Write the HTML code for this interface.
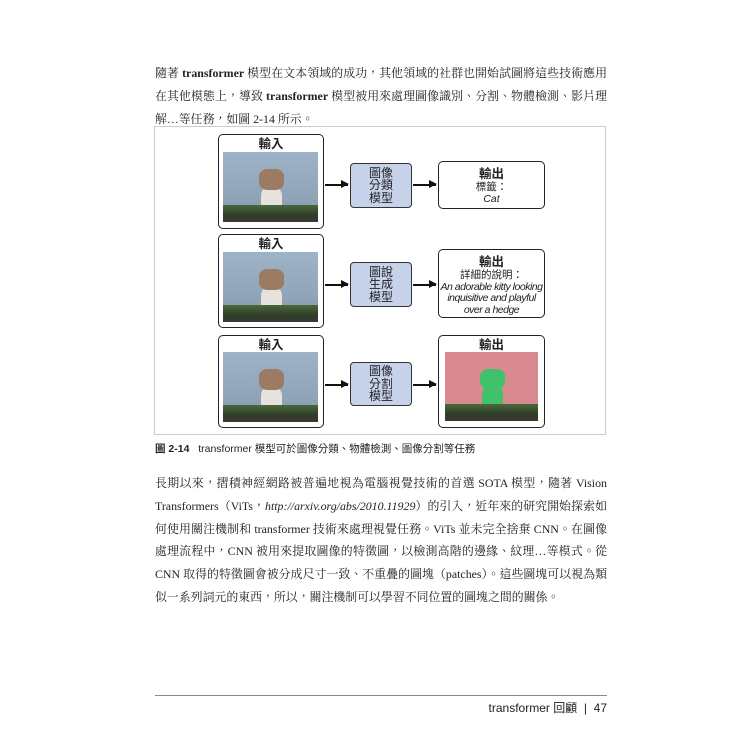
<!DOCTYPE html>
<html><head><meta charset="utf-8"><style>
body{margin:0;width:750px;height:750px;background:#fff;position:relative;overflow:hidden;font-family:"Liberation Serif","Noto Serif CJK TC","Noto Serif CJK SC",serif;color:#222}
.p{position:absolute;left:155px;width:452px;font-size:11.9px;line-height:22.8px}
.p div{text-align:justify;text-align-last:justify;white-space:nowrap;height:22.8px}
.p div.last{text-align-last:left}
.frame{position:absolute;left:154px;top:126px;width:452px;height:309px;border:1px solid #ccc;box-sizing:border-box}
.box{position:absolute;border:1.6px solid #222;border-radius:5px;background:#fff;box-sizing:border-box;font-family:"Liberation Sans","Noto Sans CJK TC",sans-serif;text-align:center}
.t{font-weight:bold;font-size:12.5px;line-height:16px}
.model{position:absolute;background:#c6d2ea;border:1.6px solid #333;border-radius:4px;box-sizing:border-box;font-family:"Liberation Sans","Noto Sans CJK TC",sans-serif;font-size:12px;line-height:12.5px;text-align:center;display:flex;align-items:center;justify-content:center}
.img{position:absolute;overflow:hidden;background:linear-gradient(#9fb3c8,#8ea3b6 70%,#7f93a0)}
.img .hedge{position:absolute;left:0;right:0;bottom:0;height:24%;background:linear-gradient(#4a6a3a,#2f3d2a 60%,#3a3a30)}
.img .body{position:absolute;left:40%;width:22%;top:48%;height:36%;background:#e6e2de;border-radius:40% 40% 10% 10%}
.img .head{position:absolute;left:38%;width:26%;top:24%;height:30%;background:#9b7b62;border-radius:35%}
.img.seg{background:#d98a90}
.img.seg .body,.img.seg .head{background:#3fc26a}
.arr{position:absolute;height:1.6px;background:#111}
.arr:after{content:"";position:absolute;right:-1px;top:-4px;border-left:8px solid #111;border-top:4.8px solid transparent;border-bottom:4.8px solid transparent}
.out{font-size:10.5px;line-height:11.5px}
</style></head><body>

<div class="p" style="top:62px">
<div>隨著 <b>transformer</b> 模型在文本領域的成功，其他領域的社群也開始試圖將這些技術應用</div>
<div>在其他模態上，導致 <b>transformer</b> 模型被用來處理圖像識別、分割、物體檢測、影片理</div>
<div class="last">解…等任務，如圖 2-14 所示。</div>
</div>

<div class="frame"></div>

<!-- row1 -->
<div class="box" style="left:218px;top:134px;width:106px;height:95px"><div class="t" style="margin-top:1px">輸入</div></div>
<div class="img" style="left:223px;top:152px;width:95px;height:70px"><div class="body"></div><div class="head"></div><div class="hedge"></div></div>
<div class="arr" style="left:325px;top:184px;width:23px"></div>
<div class="model" style="left:350px;top:163px;width:62px;height:45px">圖像<br>分類<br>模型</div>
<div class="arr" style="left:413px;top:184px;width:23px"></div>
<div class="box" style="left:438px;top:161px;width:107px;height:48px"><div class="t" style="margin-top:4px">輸出</div><div class="out">標籤：<br><i>Cat</i></div></div>

<!-- row2 -->
<div class="box" style="left:218px;top:234px;width:106px;height:94px"><div class="t" style="margin-top:1px">輸入</div></div>
<div class="img" style="left:223px;top:252px;width:95px;height:70px"><div class="body"></div><div class="head"></div><div class="hedge"></div></div>
<div class="arr" style="left:325px;top:284px;width:23px"></div>
<div class="model" style="left:350px;top:262px;width:62px;height:45px">圖說<br>生成<br>模型</div>
<div class="arr" style="left:413px;top:284px;width:23px"></div>
<div class="box" style="left:438px;top:249px;width:107px;height:69px"><div class="t" style="margin-top:4px">輸出</div><div class="out">詳細的說明：<br><i style="letter-spacing:-0.5px">An adorable kitty looking<br>inquisitive and playful<br>over a hedge</i></div></div>

<!-- row3 -->
<div class="box" style="left:218px;top:335px;width:106px;height:93px"><div class="t" style="margin-top:1px">輸入</div></div>
<div class="img" style="left:223px;top:352px;width:95px;height:70px"><div class="body"></div><div class="head"></div><div class="hedge"></div></div>
<div class="arr" style="left:325px;top:384px;width:23px"></div>
<div class="model" style="left:350px;top:362px;width:62px;height:44px">圖像<br>分割<br>模型</div>
<div class="arr" style="left:413px;top:384px;width:23px"></div>
<div class="box" style="left:438px;top:335px;width:107px;height:93px"><div class="t" style="margin-top:1px">輸出</div></div>
<div class="img seg" style="left:445px;top:352px;width:93px;height:69px"><div class="body"></div><div class="head"></div><div class="hedge"></div></div>

<div style="position:absolute;left:155px;top:442px;font-family:'Liberation Sans','Noto Sans CJK TC',sans-serif;font-size:10.5px;line-height:14px"><b>圖 2-14</b>&nbsp;&nbsp;&nbsp;transformer 模型可於圖像分類、物體檢測、圖像分割等任務</div>

<div class="p" style="top:472px">
<div>長期以來，摺積神經網路被普遍地視為電腦視覺技術的首選 SOTA 模型，隨著 Vision</div>
<div>Transformers（ViTs，<i>http://arxiv.org/abs/2010.11929</i>）的引入，近年來的研究開始探索如</div>
<div>何使用關注機制和 transformer 技術來處理視覺任務。ViTs 並未完全捨棄 CNN。在圖像</div>
<div>處理流程中，CNN 被用來提取圖像的特徵圖，以檢測高階的邊緣、紋理…等模式。從</div>
<div>CNN 取得的特徵圖會被分成尺寸一致、不重疊的圖塊（patches）。這些圖塊可以視為類</div>
<div class="last">似一系列詞元的東西，所以，關注機制可以學習不同位置的圖塊之間的關係。</div>
</div>

<div style="position:absolute;left:155px;top:695px;width:452px;height:1px;background:#888"></div>
<div style="position:absolute;right:143px;top:700px;font-family:'Liberation Sans','Noto Sans CJK TC',sans-serif;font-size:12px;line-height:16px;color:#222">transformer 回顧 &nbsp;|&nbsp; 47</div>
</body></html>
